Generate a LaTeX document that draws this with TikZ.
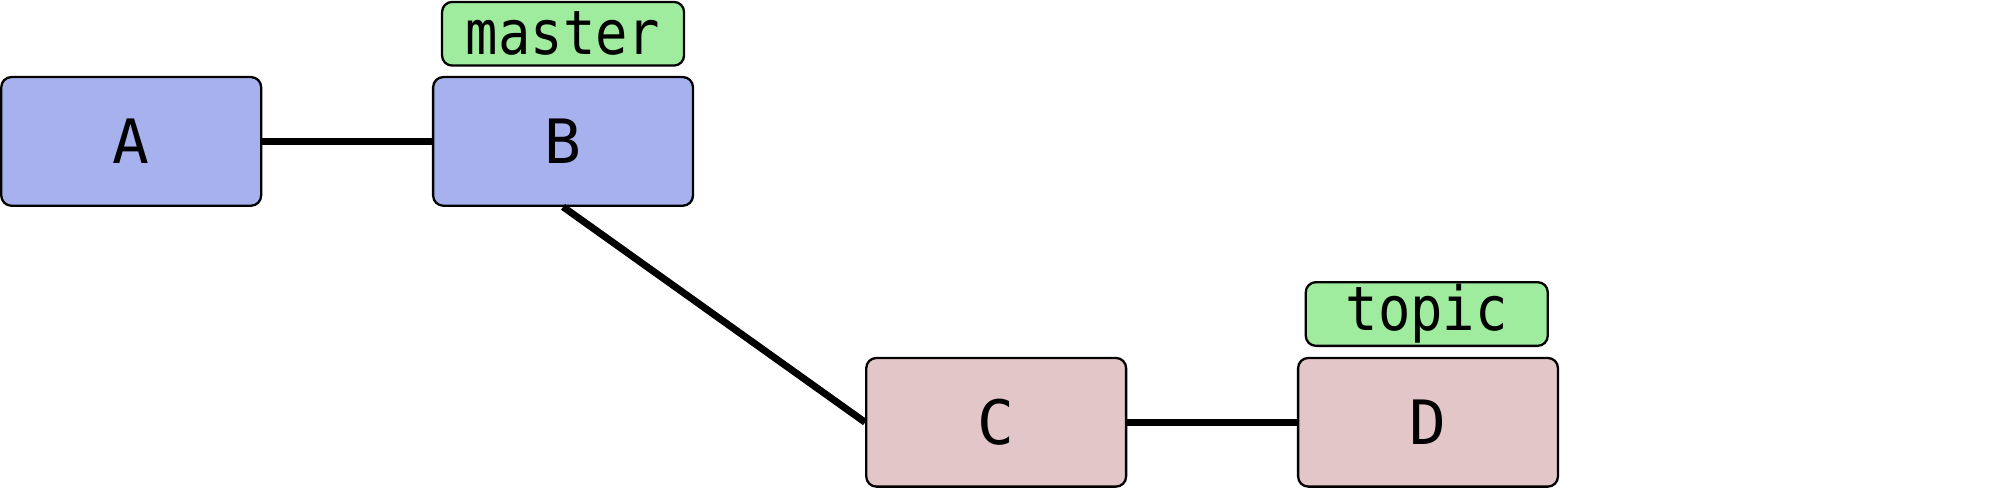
\documentclass[tikz,border=0pt]{standalone}
\usepackage{fontspec}
\setmonofont{DejaVu Sans Mono}
\newfontfamily\tagfont[FakeStretch=0.88]{DejaVu Sans Mono}
\definecolor{bluefill}{HTML}{A7B1ED}
\definecolor{pinkfill}{HTML}{E3C6C7}
\definecolor{greenfill}{HTML}{9FEC9F}
\tikzset{
  commit/.style={draw=black, line width=1.8pt, rounded corners=8pt, minimum width=204pt, minimum height=101pt, inner sep=0pt, font=\fontsize{48}{52}\selectfont\ttfamily},
  bluecommit/.style={commit, fill=bluefill},
  pinkcommit/.style={commit, fill=pinkfill},
  reftag/.style={draw=black, line width=1.8pt, rounded corners=8pt, fill=greenfill, minimum width=190pt, minimum height=50pt, inner sep=0pt, font=\fontsize{48}{52}\selectfont\tagfont},
  link/.style={line width=5.5pt, black}
}
\begin{document}
\begin{tikzpicture}[x=1pt,y=-1pt]
\useasboundingbox (0,0) rectangle (1570,384.7);
\node[bluecommit] (A) at (103,111) {A};
\node[bluecommit] (B) at (442,111) {B};
\node[reftag] (master) at (442,26.5) {master};
\node[pinkcommit] (C) at (782,331.5) {C};
\node[pinkcommit] (D) at (1121,331.5) {D};
\node[reftag] (topic) at (1120,246.5) {topic};
\draw[link] (A) -- (B);
\draw[link] (B.south) -- (C.west);
\draw[link] (C) -- (D);
\end{tikzpicture}
\end{document}
